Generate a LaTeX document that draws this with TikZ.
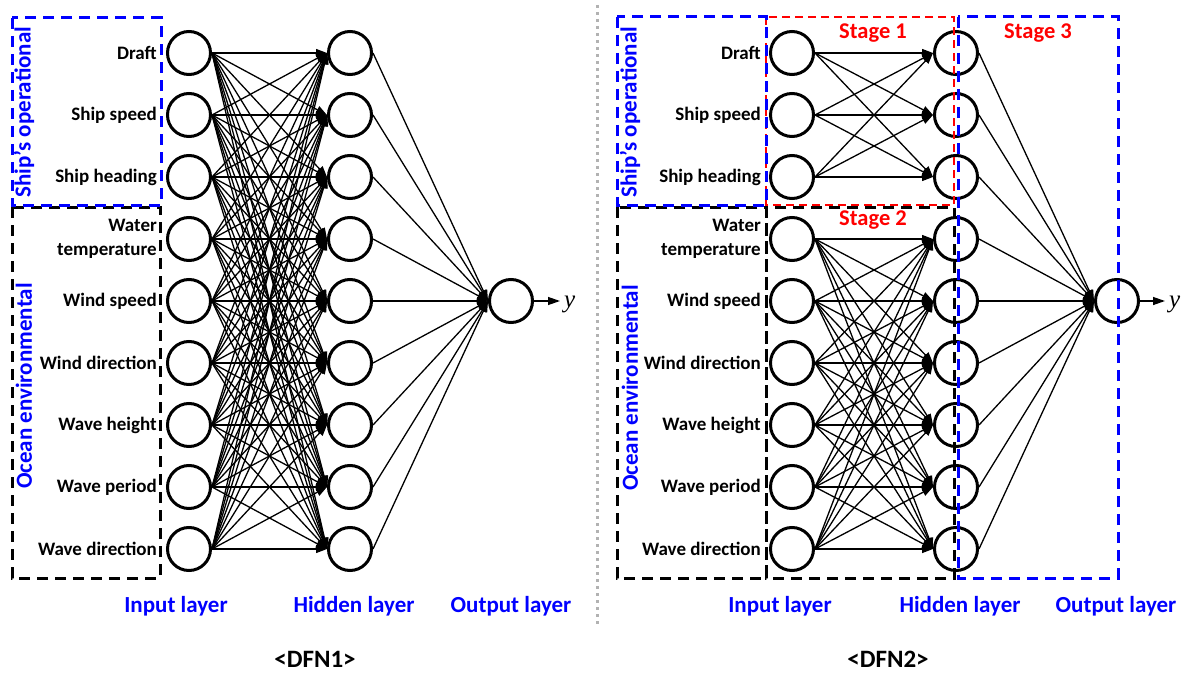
\documentclass[tikz,border=0pt]{standalone}
\usepackage{fontspec}
\setmainfont{Carlito}
\newfontfamily\yfont{Liberation Serif}
\usetikzlibrary{arrows.meta}
\begin{document}
\begin{tikzpicture}[x=1pt,y=-1pt,
  neuron/.style={circle,draw,line width=3pt,minimum size=43pt,inner sep=0pt},
  conn/.style={line width=1.3pt,-{Triangle[length=11pt,width=8pt]}},
  lab/.style={font=\bfseries\fontsize{19}{24}\selectfont,anchor=east,align=right,inner sep=0pt},
  layer/.style={font=\bfseries\fontsize{23}{24}\selectfont,text=blue,inner sep=0pt},
  grp/.style={font=\bfseries\fontsize{23}{24}\selectfont,text=blue,rotate=90,inner sep=0pt},
  stagelab/.style={font=\bfseries\fontsize{22.5}{24}\selectfont,text=red,inner sep=0pt},
  titlelab/.style={font=\bfseries\fontsize{25}{25}\selectfont,inner sep=0pt,anchor=base,text depth=0pt},
  ylab/.style={font=\yfont\itshape\fontsize{25}{25}\selectfont,anchor=base west,inner sep=0pt},
  bbox/.style={line width=3pt,dash pattern=on 11pt off 7pt},
  rbox/.style={line width=2.4pt,dash pattern=on 8pt off 5pt,red},
]
\useasboundingbox (0,0) rectangle (1184,674);

% neurons
\foreach \i in {1,...,9} {
  \node[neuron] (a\i) at (189,{53+62*(\i-1)}) {};
  \node[neuron] (b\i) at (350,{53+62*(\i-1)}) {};
  \node[neuron] (c\i) at (792,{53+62*(\i-1)}) {};
  \node[neuron] (d\i) at (956,{53+62*(\i-1)}) {};
}
\node[neuron] (ao) at (511,301) {};
\node[neuron] (do) at (1117,301) {};

% input labels
\foreach \i/\t in {1/Draft,2/Ship speed,3/Ship heading,4/{Water\\temperature},5/Wind speed,6/Wind direction,7/Wave height,8/Wave period,9/Wave direction} {
  \node[lab] (la\i) at (157,{53+62*(\i-1)}) {\t};
  \node[lab] (lc\i) at (761,{53+62*(\i-1)}) {\t};
}

% DFN1 connections
\foreach \i in {1,...,9} {
  \foreach \j in {1,...,9} {
    \draw[conn] (a\i.east) -- (b\j.west);
  }
  \draw[conn] (b\i.east) -- (ao.west);
}
\coordinate (ay) at (560,301);
\draw[conn,-{Triangle[length=12pt,width=8pt]}] (ao) -- (ay);
\node[ylab] (yl1) at (564,307) {y};

% DFN2 connections
\foreach \i in {1,2,3} {
  \foreach \j in {1,2,3} {
    \draw[conn] (c\i.east) -- (d\j.west);
  }
}
\foreach \i in {4,...,9} {
  \foreach \j in {4,...,9} {
    \draw[conn] (c\i.east) -- (d\j.west);
  }
}
\foreach \i in {1,...,9} {
  \draw[conn] (d\i.east) -- (do.west);
}
\coordinate (dy) at (1165,301);
\draw[conn,-{Triangle[length=12pt,width=8pt]}] (do) -- (dy);
\node[ylab] (yl2) at (1169,307) {y};

% group boxes DFN1
\draw[bbox,black] (12,207) rectangle (160,578);
\draw[bbox,blue] (12,18) rectangle (161,205);
\node[grp] (g1) at (24,112) {Ship’s operational};
\node[grp] (g2) at (24,386) {Ocean environmental};

% group boxes DFN2
\draw[bbox,black] (617,207) rectangle (766,578);
\draw[bbox,black] (766,207) rectangle (954,578);
\draw[rbox] (766,17) rectangle (954,205);
\draw[bbox,blue] (617,17) rectangle (766,205);
\draw[bbox,blue] (958,17) rectangle (1118,578);
\node[grp] (g3) at (630,112) {Ship’s operational};
\node[grp] (g4) at (630,388) {Ocean environmental};

\node[stagelab] (s1) at (873,33) {Stage 1};
\node[stagelab] (s2) at (873,220) {Stage 2};
\node[stagelab] (s3) at (1038,33) {Stage 3};

% layer labels
\node[layer] (il1) at (176,606) {Input layer};
\node[layer] (hl1) at (354,606) {Hidden layer};
\node[layer] (ol1) at (511,606) {Output layer};
\node[layer] (il2) at (780,606) {Input layer};
\node[layer] (hl2) at (960,606) {Hidden layer};
\node[layer] (ol2) at (1116,606) {Output layer};

\node[titlelab] (t1) at (315,667) {<DFN1>};
\node[titlelab] (t2) at (888,667) {<DFN2>};

% divider
\draw[gray!60,line width=3pt,dash pattern=on 3pt off 4pt] (597,5) -- (597,625);
\end{tikzpicture}
\end{document}
